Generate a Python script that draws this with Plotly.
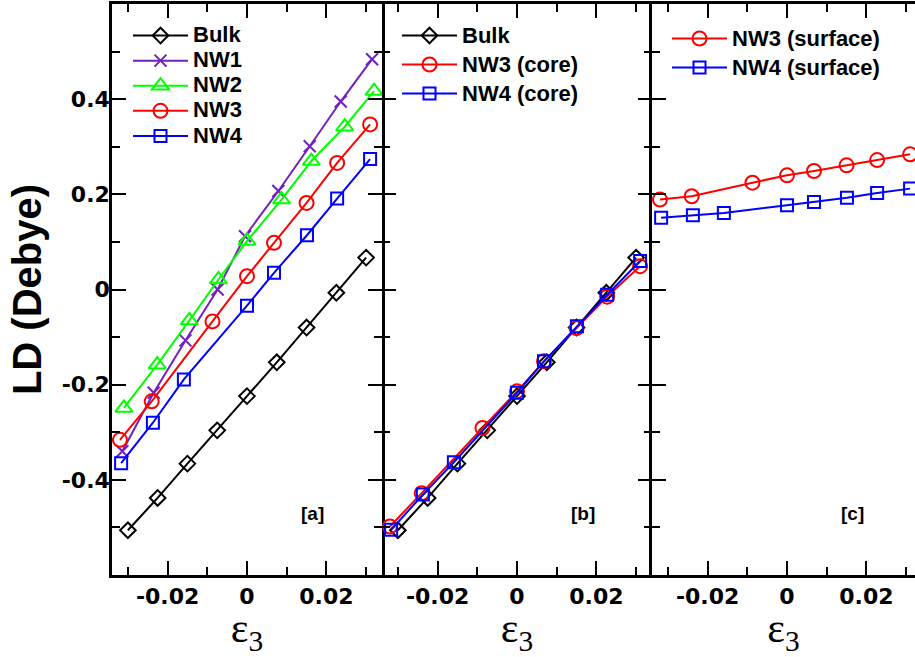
import plotly.graph_objects as go

# ---------------- data ----------------
bulk_x = [-0.030, -0.0225, -0.015, -0.0075, 0.0, 0.0075, 0.015, 0.0225, 0.030]
bulk_y = [-0.506, -0.438, -0.366, -0.296, -0.224, -0.153, -0.080, -0.007, 0.067]

nw1_x = [-0.0314, -0.0235, -0.0155, -0.0074, -0.0005, 0.0079, 0.0158, 0.0236, 0.0315]
nw1_y = [-0.340, -0.217, -0.107, 0.000, 0.112, 0.207, 0.301, 0.395, 0.484]

nw2_x = [-0.031, -0.0226, -0.0145, -0.0072, 0.0, 0.0087, 0.0162, 0.0246, 0.032]
nw2_y = [-0.249, -0.158, -0.065, 0.021, 0.102, 0.189, 0.270, 0.342, 0.417]

nw3_x = [-0.032, -0.024, -0.0087, 0.0, 0.0068, 0.015, 0.0227, 0.031]
nw3_y = [-0.316, -0.235, -0.067, 0.028, 0.098, 0.182, 0.266, 0.347]
nw3_core_y = [-0.498, -0.428, -0.291, -0.214, -0.151, -0.081, -0.015, 0.049]
nw3_surf_y = [0.189, 0.196, 0.2245, 0.240, 0.249, 0.261, 0.272, 0.284]

nw4_x = [-0.0317, -0.0237, -0.0159, 0.0, 0.0068, 0.0151, 0.0227, 0.031]
nw4_y = [-0.365, -0.280, -0.189, -0.034, 0.035, 0.114, 0.191, 0.274]
nw4_core_y = [-0.505, -0.431, -0.363, -0.217, -0.151, -0.077, -0.011, 0.060]
nw4_surf_y = [0.151, 0.156, 0.161, 0.177, 0.184, 0.193, 0.203, 0.212]

x_tick_vals = [-0.02, 0.0, 0.02]
x_tick_text = ["-0.02", "0", "0.02"]
y_tick_vals = [-0.4, -0.2, 0.0, 0.2, 0.4]
y_tick_text = ["-0.4", "-0.2", "0", "0.2", "0.4"]
panel_labels = ["[a]", "[b]", "[c]"]
x_title = "ε<sub>3</sub>"
y_title = "LD (Debye)"

# ---------------- styles ----------------
BLACK = "black"
PURPLE = "rgb(114,33,188)"
GREEN = "rgb(0,255,0)"
RED = "rgb(255,0,0)"
BLUE = "rgb(0,0,255)"

W, H = 915, 657
MT, MB = 4, 82
PLOT_H = H - MT - MB
x_edges = [112, 382, 652, 915]


def label(name):
    return '<span style="font-size:22px">%s</span>' % name


def trace(x, y, name, color, symbol, size, xa, ya, legend):
    return go.Scatter(
        x=x, y=y, name=label(name), mode="lines+markers",
        line=dict(color=color, width=2),
        marker=dict(symbol=symbol, size=size, color=color,
                    line=dict(color=color, width=2)),
        xaxis=xa, yaxis=ya, legend=legend,
    )


fig = go.Figure()
# panel a
fig.add_trace(trace(bulk_x, bulk_y, "Bulk", BLACK, "diamond-open", 12, "x", "y", "legend"))
fig.add_trace(trace(nw1_x, nw1_y, "NW1", PURPLE, "x-thin-open", 12, "x", "y", "legend"))
fig.add_trace(trace(nw2_x, nw2_y, "NW2", GREEN, "triangle-up-open", 15, "x", "y", "legend"))
fig.add_trace(trace(nw3_x, nw3_y, "NW3", RED, "circle-open", 14, "x", "y", "legend"))
fig.add_trace(trace(nw4_x, nw4_y, "NW4", BLUE, "square-open", 12, "x", "y", "legend"))
# panel b
fig.add_trace(trace(bulk_x, bulk_y, "Bulk", BLACK, "diamond-open", 12, "x2", "y2", "legend2"))
fig.add_trace(trace(nw3_x, nw3_core_y, "NW3 (core)", RED, "circle-open", 14, "x2", "y2", "legend2"))
fig.add_trace(trace(nw4_x, nw4_core_y, "NW4 (core)", BLUE, "square-open", 12, "x2", "y2", "legend2"))
# panel c
fig.add_trace(trace(nw3_x, nw3_surf_y, "NW3 (surface)", RED, "circle-open", 14, "x3", "y3", "legend3"))
fig.add_trace(trace(nw4_x, nw4_surf_y, "NW4 (surface)", BLUE, "square-open", 12, "x3", "y3", "legend3"))

tick_font = dict(family="DejaVu Sans", size=22, color=BLACK, weight="bold")
px_per_unit = (x_edges[1] - x_edges[0]) / 0.068


def xaxis(i):
    lo = -0.034
    hi = lo + (x_edges[i + 1] - x_edges[i]) / px_per_unit
    return dict(
        domain=[x_edges[i] / W, x_edges[i + 1] / W],
        range=[lo, hi], tickvals=x_tick_vals, ticktext=x_tick_text,
        ticks="inside", ticklen=14, tickwidth=2, tickcolor=BLACK,
        showline=True, linewidth=2.5, linecolor=BLACK, mirror="ticks",
        showgrid=False, zeroline=False,
        minor=dict(dtick=0.01, tick0=0, ticks="inside", ticklen=8,
                   tickwidth=2, tickcolor=BLACK, showgrid=False),
        tickfont=tick_font,
        title=dict(text=x_title,
                   font=dict(family="Liberation Serif", size=42, color=BLACK),
                   standoff=0),
        anchor="y" if i == 0 else "y%d" % (i + 1),
    )


def yaxis(i):
    d = dict(
        domain=[0, 1], range=[-0.6, 0.6],
        tickvals=y_tick_vals, ticktext=y_tick_text,
        showticklabels=(i == 0),
        ticks="inside", ticklen=14, tickwidth=2, tickcolor=BLACK,
        showline=(i != 1), linewidth=2.5, linecolor=BLACK,
        mirror="ticks" if i < 2 else False,
        showgrid=False, zeroline=False,
        minor=dict(dtick=0.1, tick0=0, ticks="inside", ticklen=8,
                   tickwidth=2, tickcolor=BLACK, showgrid=False),
        tickfont=tick_font,
        anchor="x" if i == 0 else "x%d" % (i + 1),
    )
    if i == 0:
        d["ticklabelstandoff"] = -5
        d["title"] = dict(text=y_title,
                          font=dict(family="Liberation Sans", size=40,
                                    color=BLACK, weight="bold"),
                          standoff=8)
    return d


def legend(px_left, px_top, fs):
    return dict(
        x=px_left / W, y=1 - (px_top - MT) / PLOT_H,
        xanchor="left", yanchor="top",
        font=dict(family="Liberation Sans", size=fs, color=BLACK, weight="bold"),
        bgcolor="rgba(0,0,0,0)", borderwidth=0, itemwidth=55,
        tracegroupgap=0,
    )


fig.update_layout(
    width=W, height=H,
    margin=dict(l=0, r=0, t=MT, b=MB),
    paper_bgcolor="white", plot_bgcolor="white",
    showlegend=True,
    xaxis=xaxis(0), xaxis2=xaxis(1), xaxis3=xaxis(2),
    yaxis=yaxis(0), yaxis2=yaxis(1), yaxis3=yaxis(2),
    legend=legend(128, 18, 17),
    legend2=legend(397, 16, 20),
    legend3=legend(667, 19, 20),
)

for i, lab in enumerate(panel_labels):
    xr = "x" if i == 0 else "x%d" % (i + 1)
    yr = "y" if i == 0 else "y%d" % (i + 1)
    fig.add_annotation(
        text=lab, x=0.0165, y=-0.47, xref=xr, yref=yr, showarrow=False,
        font=dict(family="Liberation Sans", size=19, color=BLACK, weight="bold"),
    )

fig.write_html("out.html")
